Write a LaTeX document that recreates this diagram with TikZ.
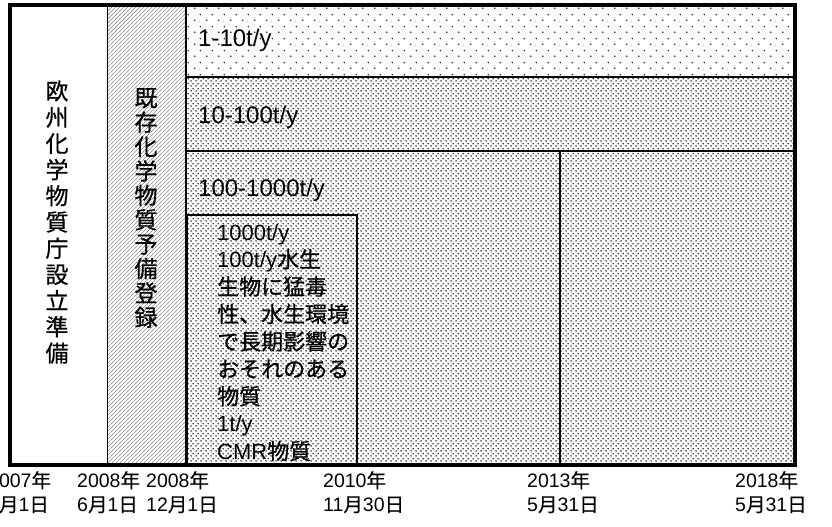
\documentclass[tikz,border=0pt]{standalone}
\usepackage{fontspec}
\setmainfont{Liberation Sans}
\newfontfamily\jpf[FakeBold=0.6]{Noto Sans CJK JP}
\newcommand\jt[1]{{\jpf #1}}
\usetikzlibrary{patterns}

\pgfdeclarepatternformonly{sparsedots}{\pgfpointorigin}{\pgfpoint{12pt}{12pt}}{\pgfpoint{12pt}{12pt}}{%
  \pgfpathcircle{\pgfpoint{3pt}{3pt}}{0.9pt}%
  \pgfpathcircle{\pgfpoint{9pt}{9pt}}{0.9pt}%
  \pgfusepath{fill}}
\pgfdeclarepatternformonly{densedots}{\pgfpointorigin}{\pgfpoint{5pt}{5pt}}{\pgfpoint{5pt}{5pt}}{%
  \pgfpathcircle{\pgfpoint{1.25pt}{1.25pt}}{0.9pt}%
  \pgfpathcircle{\pgfpoint{3.75pt}{3.75pt}}{0.9pt}%
  \pgfusepath{fill}}
\pgfdeclarepatternformonly{hatchlines}{\pgfpoint{-1pt}{-1pt}}{\pgfpoint{5pt}{5pt}}{\pgfpoint{4pt}{4pt}}{%
  \pgfsetlinewidth{0.7pt}%
  \pgfpathmoveto{\pgfpoint{-1pt}{-1pt}}\pgfpathlineto{\pgfpoint{5pt}{5pt}}%
  \pgfusepath{stroke}}

\begin{document}
\begin{tikzpicture}[x=1pt,y=-1pt,
  thinline/.style={line width=1.5pt},
  frameline/.style={line width=4pt},
  rangelbl/.style={inner sep=0pt, font=\fontsize{24}{28}\selectfont},
  vertlbl/.style={inner sep=0pt, align=center, font=\jpf\fontsize{23}{#1}\selectfont},
  boxlbl/.style={inner sep=0pt, align=left, font=\fontsize{22}{27.4}\selectfont},
  datelbl/.style={inner sep=0pt, align=left, anchor=north west, font=\fontsize{19.5}{24}\selectfont}]
\useasboundingbox (0,0) rectangle (832,527);
% pattern fills
\fill[pattern=sparsedots, pattern color=black!85] (186,5) rectangle (795,77);
\fill[pattern=densedots, pattern color=black] (186,77) rectangle (795,465);
\fill[pattern=hatchlines, pattern color=black!40] (107,5) rectangle (186,465);
% lines
\draw[line width=1pt] (107,5) -- (107,465);
\draw[thinline] (186,5) -- (186,465);
\draw[thinline] (186,77) -- (795,77);
\draw[thinline] (186,151) -- (795,151);
\draw[thinline] (560,151) -- (560,465);
\draw[thinline] (187,215) rectangle (357,465);
\draw[frameline] (10,5) rectangle (795,465);
% vertical labels
\node[vertlbl=26.2] (agency) at (57,222) {欧\\州\\化\\学\\物\\質\\庁\\設\\立\\準\\備};
\node[vertlbl=24.4] (prereg) at (146,208) {既\\存\\化\\学\\物\\質\\予\\備\\登\\録};
% tonnage labels
\node[rangelbl, anchor=base west] (r1) at (198,47) {1-10t/y};
\node[rangelbl, anchor=base west] (r2) at (198,123) {10-100t/y};
\node[rangelbl, anchor=base west] (r3) at (198,196) {100-1000t/y};
\node[boxlbl, anchor=north west] (r4) at (217,224) {1000t/y\\100t/y\jt{水生}\\\jt{生物に猛毒}\\\jt{性、水生環境}\\\jt{で長期影響の}\\\jt{おそれのある}\\\jt{物質}\\1t/y\\CMR\jt{物質}};
% dates
\node[datelbl] (d1) at (-12,471) {2007\jt{年}\\6\jt{月}1\jt{日}};
\node[datelbl] (d2) at (77,471) {2008\jt{年}\\6\jt{月}1\jt{日}};
\node[datelbl] (d3) at (146,471) {2008\jt{年}\\12\jt{月}1\jt{日}};
\node[datelbl] (d4) at (323,471) {2010\jt{年}\\11\jt{月}30\jt{日}};
\node[datelbl] (d5) at (527,471) {2013\jt{年}\\5\jt{月}31\jt{日}};
\node[datelbl] (d6) at (735,471) {2018\jt{年}\\5\jt{月}31\jt{日}};
\end{tikzpicture}
\end{document}
